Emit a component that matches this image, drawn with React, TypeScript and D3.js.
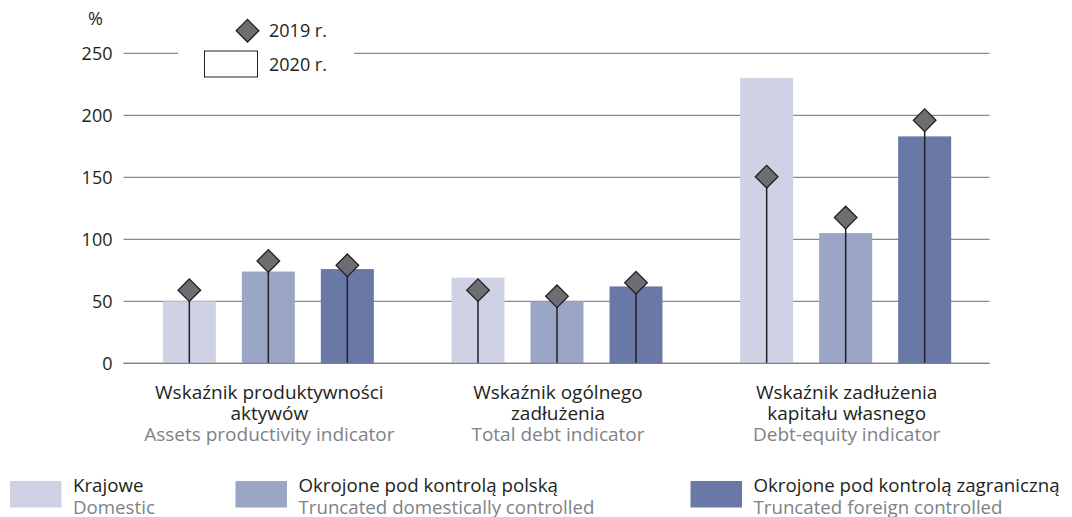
import React from "react";
import * as d3 from "d3";

const categoriesPl: string[][] = [
  ["Wskaźnik produktywności", "aktywów"],
  ["Wskaźnik ogólnego", "zadłużenia"],
  ["Wskaźnik zadłużenia", "kapitału własnego"],
];
const categoriesEn = ["Assets productivity indicator", "Total debt indicator", "Debt-equity indicator"];
const categoryKeys = ["assets", "debt", "debtEquity"];

const seriesPl = ["Krajowe", "Okrojone pod kontrolą polską", "Okrojone pod kontrolą zagraniczną"];
const seriesEn = ["Domestic", "Truncated domestically controlled", "Truncated foreign controlled"];
const seriesColors = ["#cfd2e5", "#9ba5c6", "#6a78a8"];

// 2020 values (bars)
const domestic2020 = [50, 69, 230];
const polish2020 = [74, 50, 105];
const foreign2020 = [76, 62, 183];
// 2019 values (diamonds)
const domestic2019 = [59, 59, 150.5];
const polish2019 = [82.5, 54, 117.5];
const foreign2019 = [79, 65, 196];

const yTicks = [0, 50, 100, 150, 200, 250];
const legendYears = ["2019 r.", "2020 r."];

const FONT = "'Open Sans', sans-serif";
const DARK = "#231f20";
const GREY = "#808285";

export default function App() {
  const bars2020 = [domestic2020, polish2020, foreign2020];
  const points2019 = [domestic2019, polish2019, foreign2019];

  const y = d3.scaleLinear().domain([0, 250]).range([363.3, 53.3]);
  const x0 = d3.scaleBand<string>().domain(categoryKeys).range([124, 990]).padding(0);
  const half = 105.5;
  const x1 = d3
    .scaleBand<string>()
    .domain(seriesPl)
    .range([x0.bandwidth() / 2 - half, x0.bandwidth() / 2 + half])
    .paddingInner(26 / 79)
    .paddingOuter(0);

  const diamond = d3.symbol().type(d3.symbolSquare).size(16 * 16)();

  const fsTick = 18;
  const fsLabel = 19;

  return (
    <svg width={1072} height={517} style={{ position: "absolute", left: 0, top: 0, background: "#fff" }}>
      {/* gridlines */}
      {yTicks.map((t) => (
        <g key={t}>
          <line x1={123.5} x2={989.5} y1={y(t)} y2={y(t)} stroke="#8a8a8a" strokeWidth={1.2} />
          <text x={112.5} y={y(t)} dy="0.36em" textAnchor="end" fontFamily={FONT} fontSize={fsTick} fill={DARK}>
            {t}
          </text>
        </g>
      ))}
      <text x={95.5} y={25} textAnchor="middle" fontFamily={FONT} fontSize={fsTick} fill={DARK}>%</text>

      {/* legend top (white background covers gridline) */}
      <rect x={178} y={14} width={176} height={70} fill="#fff" />
      <path d={diamond!} transform={`translate(247.5,30.7) rotate(45)`} fill="#6d6e71" stroke={DARK} strokeWidth={1.3} />
      <text x={269} y={37} fontFamily={FONT} fontSize={fsTick} fill={DARK}>{legendYears[0]}</text>
      <rect x={204.5} y={51} width={53} height={26} fill="#fff" stroke={DARK} strokeWidth={1} />
      <text x={269} y={71} fontFamily={FONT} fontSize={fsTick} fill={DARK}>{legendYears[1]}</text>

      {/* bars */}
      {categoryKeys.map((c, ci) => (
        <g key={c} transform={`translate(${x0(c)},0)`}>
          {seriesPl.map((s, si) => {
            const v = bars2020[si][ci];
            return (
              <rect key={s} x={x1(s)} y={y(v)} width={x1.bandwidth()} height={y(0) - y(v)} fill={seriesColors[si]} />
            );
          })}
          {seriesPl.map((s, si) => {
            const v = points2019[si][ci];
            const cx = (x1(s) as number) + x1.bandwidth() / 2;
            return (
              <g key={s + "p"}>
                <line x1={cx} x2={cx} y1={y(v)} y2={y(0)} stroke={DARK} strokeWidth={1.5} />
                <path d={diamond!} transform={`translate(${cx},${y(v)}) rotate(45)`} fill="#6d6e71" stroke={DARK} strokeWidth={1.3} />
              </g>
            );
          })}
        </g>
      ))}
      {/* baseline on top */}
      <line x1={123.5} x2={989.5} y1={y(0)} y2={y(0)} stroke="#808080" strokeWidth={1.2} />

      {/* category labels */}
      {categoryKeys.map((c, ci) => {
        const cx = (x0(c) as number) + x0.bandwidth() / 2 + 1;
        return (
          <g key={c + "l"} fontFamily={FONT} fontSize={fsLabel} textAnchor="middle">
            <text x={cx} y={399} fill={DARK}>{categoriesPl[ci][0]}</text>
            <text x={cx} y={420} fill={DARK}>{categoriesPl[ci][1]}</text>
            <text x={cx} y={441} fill={GREY}>{categoriesEn[ci]}</text>
          </g>
        );
      })}

      {/* bottom legend */}
      {seriesPl.map((s, si) => {
        const lx = [10, 235.5, 690.5][si];
        return (
          <g key={s + "lg"} fontFamily={FONT} fontSize={fsLabel - 0.3}>
            <rect x={lx} y={481} width={51.5} height={26.5} fill={seriesColors[si]} />
            <text x={lx + 63} y={492} fill={DARK}>{s}</text>
            <text x={lx + 63} y={514} fill={GREY}>{seriesEn[si]}</text>
          </g>
        );
      })}
    </svg>
  );
}
